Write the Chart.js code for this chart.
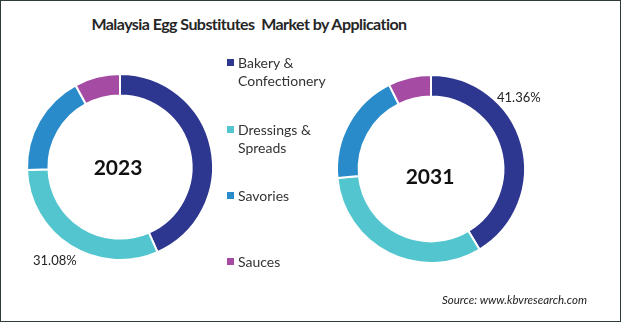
<!DOCTYPE html>
<html>
<head>
<meta charset="utf-8">
<script src="https://cdn.jsdelivr.net/npm/chart.js@4"></script>
<style>
  html, body { margin: 0; padding: 0; background: #fff; }
  #wrap {
    position: relative; width: 621px; height: 322px; box-sizing: border-box;
    border: 1px solid #2f3b3b; overflow: hidden; font-family: Lato, "Open Sans", sans-serif;
  }
  #wrap canvas { position: absolute; left: 0; top: 0; }
  #title {
    position: absolute; left: 0; width: 496px; top: 13px; text-align: center;
    font-weight: 700; font-size: 16px; letter-spacing: -0.55px; color: #262626;
  }
  #legend { position: absolute; left: 226px; top: 0; font-size: 14px; color: #333; }
  .item { position: absolute; white-space: nowrap; line-height: 18px; }
  .item i { position: absolute; left: 0; top: 5px; width: 7px; height: 7px; }
  .item span { position: absolute; left: 11px; top: 0; }
  #source {
    position: absolute; left: 441px; top: 292px; font-size: 11.5px; font-style: italic; color: #222;
  }
</style>
</head>
<body>
<div id="wrap">
  <div id="title">Malaysia Egg Substitutes&nbsp; Market by Application</div>
  <canvas id="c2023" width="619" height="320"></canvas>
  <canvas id="c2031" width="619" height="320"></canvas>
  <div id="legend"></div>
  <div id="source">Source: www.kbvresearch.com</div>
</div>
<script>
'use strict';

const categories = ['Bakery & Confectionery', 'Dressings & Spreads', 'Savories', 'Sauces'];
const legendLines = [['Bakery &', 'Confectionery'], ['Dressings &', 'Spreads'], ['Savories'], ['Sauces']];
const colors = ['#2e378f', '#52c5cf', '#2a8bcb', '#a54ba3'];
const share2023 = [43.4, 31.08, 17.6, 7.92];
const share2031 = [41.36, 32.1, 19.2, 7.34];

// legend built from the arrays
const legendEl = document.getElementById('legend');
const legendTops = [53, 120, 186, 252];
legendLines.forEach((lines, i) => {
  const div = document.createElement('div');
  div.className = 'item';
  div.style.top = legendTops[i] + 'px';
  div.innerHTML = `<i style="background:${colors[i]}"></i><span>${lines.join('<br>')}</span>`;
  legendEl.appendChild(div);
});

// draws the year in the hole and the single percentage label
const donutText = {
  id: 'donutText',
  afterDatasetsDraw(chart, args, opts) {
    const { ctx } = chart;
    const arc = chart.getDatasetMeta(0).data[0];
    ctx.save();
    ctx.fillStyle = '#111';
    ctx.font = 'bold 21px Lato, "Open Sans", sans-serif';
    ctx.textAlign = 'center';
    ctx.textBaseline = 'middle';
    ctx.fillText(opts.year, arc.x + opts.yearDx, arc.y + opts.yearDy);
    const idx = opts.labelIndex;
    ctx.font = '13px Lato, "Open Sans", sans-serif';
    ctx.fillStyle = '#222';
    ctx.textAlign = 'left';
    ctx.fillText(chart.data.datasets[0].data[idx].toFixed(2) + '%', arc.x + opts.labelDx, arc.y + opts.labelDy);
    ctx.restore();
  },
};

function makeDonut(id, values, year, area, textOpts) {
  const canvas = document.getElementById(id);
  return new Chart(canvas.getContext('2d'), {
    type: 'doughnut',
    data: {
      labels: categories,
      datasets: [{
        data: values,
        backgroundColor: colors,
        borderColor: '#ffffff',
        borderWidth: 2,
      }],
    },
    options: {
      responsive: false,
      animation: false,
      cutout: '77%',
      layout: {
        padding: { left: area.left, top: area.top, right: 619 - area.right, bottom: 320 - area.bottom },
      },
      plugins: {
        legend: { display: false },
        tooltip: { enabled: false },
        donutText: Object.assign({ year: year }, textOpts),
      },
    },
    plugins: [donutText],
  });
}

// chart areas are in canvas coords (canvas sits inside the 1px border)
makeDonut('c2023', share2023, '2023', { left: 25, top: 72, right: 213, bottom: 260 },
  { yearDx: -2, yearDy: 1, labelIndex: 1, labelDx: -87, labelDy: 94 });
makeDonut('c2031', share2031, '2031', { left: 335, top: 73, right: 525, bottom: 263 },
  { yearDx: -1, yearDy: 8, labelIndex: 0, labelDx: 66, labelDy: -71 });
</script>
</body>
</html>
